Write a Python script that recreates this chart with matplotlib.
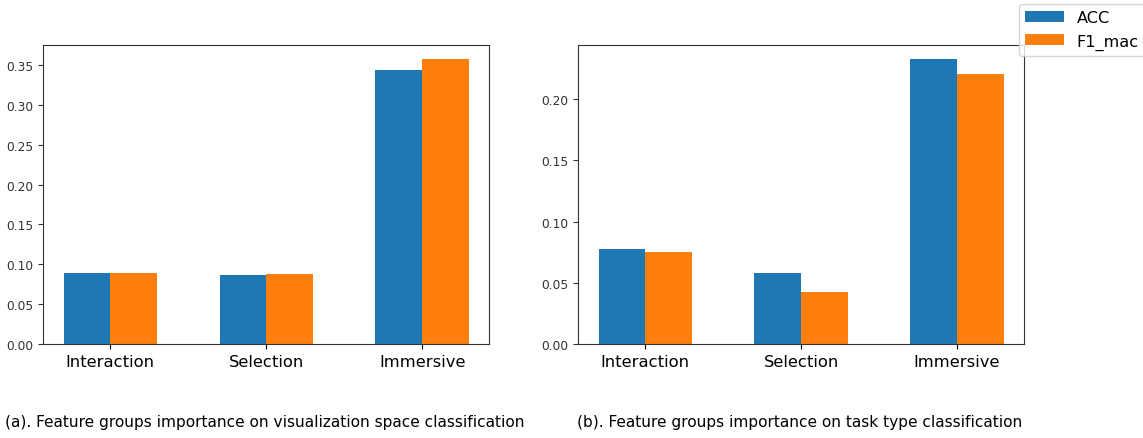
import matplotlib
matplotlib.use("Agg")
import matplotlib.pyplot as plt
import numpy as np

# Feature groups and scores
groups = ['Interaction', 'Selection', 'Immersive']
space_acc = [0.0886, 0.0861, 0.3437]
space_f1 = [0.0886, 0.0873, 0.3575]
task_acc = [0.0776, 0.0577, 0.2329]
task_f1 = [0.0748, 0.0424, 0.2204]
captions = ['(a). Feature groups importance on visualization space classification',
            '(b). Feature groups importance on task type classification']

W, H = 1143, 439
fig = plt.figure(figsize=(W / 100, H / 100), dpi=100)

ax1 = fig.add_axes([43.3 / W, 94 / H, 446 / W, 299.3 / H])
ax2 = fig.add_axes([578.3 / W, 94 / H, 445.7 / W, 299.3 / H])

x = np.arange(len(groups))
width = 0.3

for ax, acc, f1 in [(ax1, space_acc, space_f1), (ax2, task_acc, task_f1)]:
    ax.bar(x - width / 2, acc, width, color='#1f77b4', label='ACC')
    ax.bar(x + width / 2, f1, width, color='#ff7f0e', label='F1_mac')
    ax.set_xticks(x)
    ax.set_xticklabels(groups, fontsize=11.8)
    ax.tick_params(axis='y', labelsize=8.8, colors='#333333')
    ax.tick_params(axis='x', colors='black')
    for s in ax.spines.values():
        s.set_color('#333333')

ax1.set_yticks(np.arange(0, 0.36, 0.05))
ax2.set_yticks(np.arange(0, 0.21, 0.05))

handles, labels = ax1.get_legend_handles_labels()
fig.legend(handles, labels, loc='upper right', bbox_to_anchor=(1.0 + 7 / W, 1.0),
           fontsize=11.6, borderaxespad=0.3, handlelength=2.4)

fig.text(5 / W, 1 - 423 / H, captions[0], fontsize=11.1, va='center', ha='left')
fig.text(577 / W, 1 - 423 / H, captions[1], fontsize=11.1, va='center', ha='left')

fig.savefig('out.png', dpi=100)
